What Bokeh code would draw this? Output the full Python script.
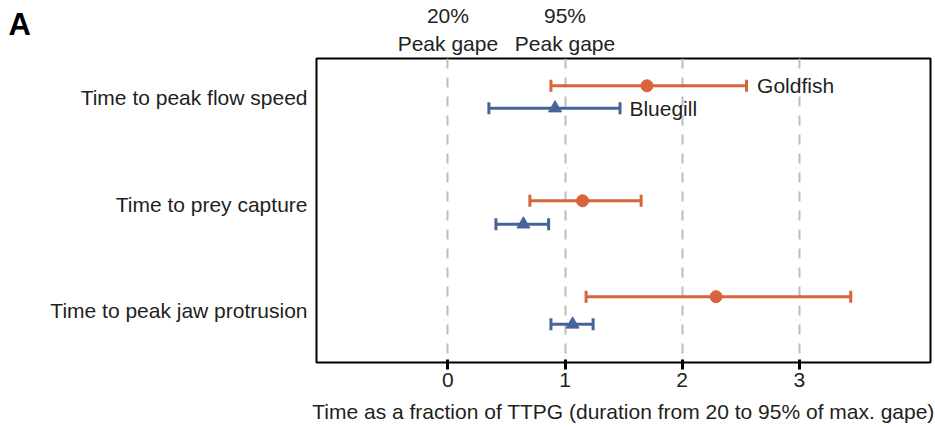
from bokeh.plotting import figure
from bokeh.models import (ColumnDataSource, Range1d, FixedTicker, LinearAxis,
                          Whisker, TeeHead, Label)
from bokeh.core.properties import value
from bokeh.embed import file_html
from bokeh.resources import INLINE

# ---- data ----
categories = ["Time to peak flow speed", "Time to prey capture", "Time to peak jaw protrusion"]
cat_pos = [0, 1, 2]

goldfish_mean = [1.70, 1.15, 2.29]
goldfish_lo = [0.88, 0.70, 1.18]
goldfish_hi = [2.55, 1.65, 3.44]
goldfish_y = [-0.11, 0.97, 1.87]

bluegill_mean = [0.915, 0.645, 1.065]
bluegill_lo = [0.35, 0.41, 0.88]
bluegill_hi = [1.47, 0.86, 1.24]
bluegill_y = [0.10, 1.19, 2.13]

x_ticks = [0, 1, 2, 3]
top_ticks = [0, 1]
top_labels = ["20%\nPeak gape", "95%\nPeak gape"]
x_title = "Time as a fraction of TTPG (duration from 20 to 95% of max. gape)"

ORANGE = "#d8643b"
BLUE = "#46649b"
TEXT = "#231f20"
FONT = "Liberation Sans"
FS = "21px"

p = figure(width=935, height=427, output_backend="svg", toolbar_location=None,
           x_range=Range1d(-1.122, 4.121), y_range=Range1d(2.488, -0.366),
           min_border_left=316, min_border_right=5, min_border_top=58, min_border_bottom=65)
p.background_fill_color = "white"
p.border_fill_color = "white"
p.outline_line_color = "black"
p.outline_line_width = 2
p.outline_line_alpha = 1

# grid
p.ygrid.visible = False
p.xgrid.ticker = FixedTicker(ticks=x_ticks)
p.xgrid.grid_line_color = "#bdbdbd"
p.xgrid.grid_line_width = 2
p.xgrid.grid_line_dash = "10 9"

# bottom axis
xa = p.xaxis[0]
xa.ticker = FixedTicker(ticks=x_ticks)
xa.axis_line_color = None
xa.major_tick_line_color = "black"
xa.major_tick_line_width = 3
xa.major_tick_in = 3
xa.major_tick_out = 7
xa.minor_tick_line_color = None
xa.major_label_text_font = FONT
xa.major_label_text_font_size = FS
xa.major_label_text_color = TEXT
xa.major_label_standoff = 3
xa.axis_label = x_title
xa.axis_label_text_font = FONT
xa.axis_label_text_font_size = FS
xa.axis_label_text_font_style = "normal"
xa.axis_label_text_color = TEXT
xa.axis_label_standoff = 10

# left axis (categories)
ya = p.yaxis[0]
ya.ticker = FixedTicker(ticks=cat_pos)
ya.major_label_overrides = {c: l for c, l in zip(cat_pos, categories)}
ya.axis_line_color = None
ya.major_tick_line_color = None
ya.minor_tick_line_color = None
ya.major_label_text_font = FONT
ya.major_label_text_font_size = FS
ya.major_label_text_color = TEXT
ya.major_label_standoff = 3

# top axis with peak gape labels
ta = LinearAxis(ticker=FixedTicker(ticks=top_ticks),
                major_label_overrides={t: l for t, l in zip(top_ticks, top_labels)})
ta.axis_line_color = None
ta.major_tick_line_color = None
ta.minor_tick_line_color = None
ta.major_label_text_font = FONT
ta.major_label_text_font_size = FS
ta.major_label_text_color = TEXT
ta.major_label_standoff = -2
p.add_layout(ta, "above")

# series
gsrc = ColumnDataSource(dict(y=goldfish_y, m=goldfish_mean, lo=goldfish_lo, hi=goldfish_hi))
bsrc = ColumnDataSource(dict(y=bluegill_y, m=bluegill_mean, lo=bluegill_lo, hi=bluegill_hi))

for src, col in ((gsrc, ORANGE), (bsrc, BLUE)):
    w = Whisker(source=src, base="y", lower="lo", upper="hi", dimension="width",
                line_color=col, line_width=3,
                lower_head=TeeHead(size=12, line_color=col, line_width=3),
                upper_head=TeeHead(size=12, line_color=col, line_width=3))
    p.add_layout(w)

p.scatter(x="m", y="y", source=gsrc, marker="circle", size=12,
          fill_color=ORANGE, line_color=ORANGE)
p.scatter(x="m", y="y", source=bsrc, marker="triangle", size=13,
          fill_color=BLUE, line_color=BLUE)

# series names
p.text(x=[goldfish_hi[0] + 0.09], y=[goldfish_y[0]], text=["Goldfish"],
       text_font=value(FONT), text_font_size=FS, text_color=TEXT,
       text_align="left", text_baseline="middle")
p.text(x=[bluegill_hi[0] + 0.08], y=[bluegill_y[0]], text=["Bluegill"],
       text_font=value(FONT), text_font_size=FS, text_color=TEXT,
       text_align="left", text_baseline="middle")

# panel letter (placed in the left side panel so it is not clipped to the frame)
p.add_layout(Label(x=-3.752, y=-0.847, text="A", text_font=FONT, text_font_size="31px",
                   text_font_style="bold", text_color="black",
                   text_align="left", text_baseline="top"), "left")

open("out.html", "w").write(file_html(p, INLINE))
